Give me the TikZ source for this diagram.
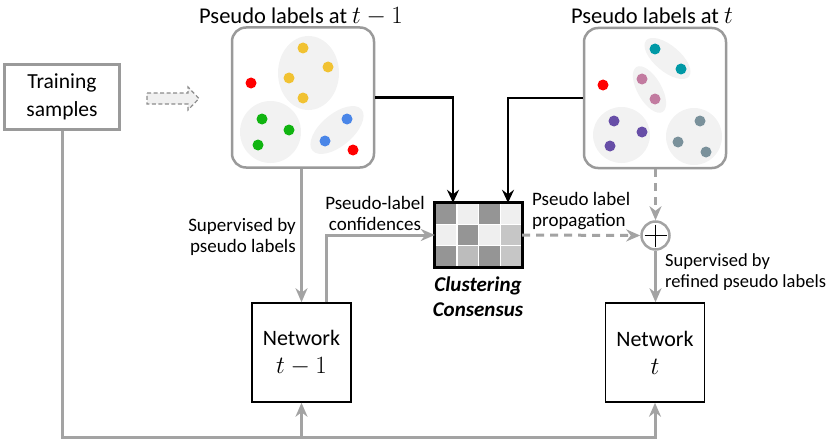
\documentclass[tikz,border=0pt]{standalone}
\usepackage{fontspec}
\setmainfont{Carlito}
\usetikzlibrary{arrows.meta,calc}
\definecolor{cgray}{HTML}{A3A3A3}
\definecolor{bgray}{HTML}{9A9A9A}
\definecolor{efill}{HTML}{F2F2F2}
\definecolor{cred}{HTML}{FF0000}
\definecolor{cyel}{HTML}{F1C232}
\definecolor{cgrn}{HTML}{10B410}
\definecolor{cblu}{HTML}{4A86E8}
\definecolor{ctea}{HTML}{0099A6}
\definecolor{cpnk}{HTML}{C27BA0}
\definecolor{cpur}{HTML}{674EA7}
\definecolor{csla}{HTML}{7A919B}
\definecolor{gdark}{HTML}{959595}
\definecolor{glight}{HTML}{EFEFEF}
\definecolor{gmid}{HTML}{C6C6C6}
\definecolor{gmid2}{HTML}{BCBCBC}
\newcommand{\bigmath}[1]{{\fontsize{26}{28}\selectfont$#1$}}
\tikzset{
  tsbox/.style={draw=bgray,line width=3pt,minimum width=115pt,minimum height=65pt,inner sep=0pt,align=center,font=\fontsize{21.5}{28}\selectfont},
  pbox/.style={draw=bgray,line width=2.5pt,rounded corners=14pt,minimum width=142pt,minimum height=140pt,inner sep=0pt},
  ptitle/.style={inner sep=0pt,anchor=base,font=\fontsize{22.5}{26}\selectfont},
  netbox/.style={draw=black,line width=1.5pt,minimum width=99pt,minimum height=99pt,inner sep=0pt,align=center,font=\fontsize{22}{28}\selectfont},
  lbl/.style={inner sep=0pt,font=\fontsize{19}{21}\selectfont},
  cclbl/.style={inner sep=0pt,align=center,font=\fontsize{21}{25}\selectfont\bfseries\itshape},
  blk/.style={draw=black,line width=2.5pt,-{Stealth[length=13pt,width=12pt,inset=4.5pt]}},
  garrow/.style={draw=cgray,line width=3pt,-{Stealth[length=14pt,width=12pt,inset=4.5pt]}},
  gdash/.style={garrow,dash pattern=on 8pt off 6pt},
  dotc/.style={fill=#1},
  ell/.style={fill=efill}
}
\begin{document}
\begin{tikzpicture}[x=1pt,y=-1pt]
\useasboundingbox (0,0) rectangle (830,444);

% training samples
\node[tsbox] (train) at (62,97) {Training\\samples};
% dashed block arrow
\draw[draw=gray!90,fill=gray!12,line width=1.2pt,dash pattern=on 4pt off 2.5pt]
  (147,93) -- (188,93) -- (188,87) -- (199,98.5) -- (188,110) -- (188,104) -- (147,104) -- cycle;

% pseudo label boxes
\node[pbox] (pl1) at (303,97.5) {};
\node[pbox] (pl2) at (655,98) {};
\node[ptitle] (t1) at (301,24) {Pseudo labels at \bigmath{t-1}};
\node[ptitle] (t2) at (652,24) {Pseudo labels at \bigmath{t}};

% left box clusters
\fill[ell] (308.5,73) ellipse (30.5 and 37);
\fill[ell] (270.5,132) ellipse (30.5 and 31);
\fill[ell,rotate around={40:(337,130)}] (337,130) ellipse (32 and 16);
\foreach \px/\py/\c in {303/48/cyel,328/67/cyel,289/78/cyel,303/98/cyel,251/83/cred,353/150/cred,262/119/cgrn,289/130/cgrn,258/145/cgrn,347/119/cblu,325/141/cblu}
  \fill[dotc=\c] (\px,\py) circle (5.5);

% right box clusters
\fill[ell,rotate around={-40:(667.5,58.5)}] (667.5,58.5) ellipse (28 and 13);
\fill[ell,rotate around={-60:(649.5,89.5)}] (649.5,89.5) ellipse (26 and 12);
\fill[ell] (621.5,135) ellipse (28.5 and 28);
\fill[ell] (694,136.5) ellipse (28 and 28.5);
\foreach \px/\py/\c in {655/49/ctea,681/69/ctea,642/79/cpnk,655/99/cpnk,603/85/cred,614/121/cpur,642/132/cpur,610/146/cpur,700/121/csla,678/142/csla,706/152/csla}
  \fill[dotc=\c] (\px,\py) circle (5.5);

% clustering consensus grid
\node[minimum width=87pt,minimum height=64pt,inner sep=0pt] (cc) at (478.5,235) {};
\foreach \row/\cols in {0/{gdark,glight,gdark,glight},1/{glight,gdark,glight,gmid},2/{gdark,gmid2,gdark,gmid}}{
  \foreach \cl [count=\ci from 0] in \cols {
    \fill[\cl,draw=white,line width=1.5pt] (435+\ci*21.75,203+\row*21.333) rectangle ++(21.75,21.333);
  }
}
\draw[black,line width=3pt] (cc.north west) rectangle (cc.south east);
\node[cclbl] (ccl) at (478,297) {Clustering\\Consensus};

% circle plus
\node[circle,draw=cgray,line width=2.5pt,minimum size=28pt,inner sep=0pt] (plus) at (655.5,235.5) {};
\draw[black,line width=1pt] ($(plus.center)+(-11,0)$) -- ($(plus.center)+(11,0)$);
\draw[black,line width=1pt] ($(plus.center)+(0,-11)$) -- ($(plus.center)+(0,11)$);

% networks
\node[netbox] (n1) at (301.5,352.5) {Network\\\bigmath{t-1}};
\node[netbox] (n2) at (655,352.5) {Network\\\bigmath{t}};

% connectors
\draw[blk] (pl1.east) -| ([xshift=-25.5pt]cc.north);
\draw[blk] (pl2.west) -| ([xshift=29.5pt]cc.north);
\draw[garrow] (pl1.south -| n1.north) -- (n1.north);
\draw[garrow] ([xshift=25pt]n1.north) |- (cc.west);
\draw[gdash] (cc.east) -- (plus.west);
\draw[gdash] (pl2.south -| plus.north) -- (plus.north);
\draw[garrow] (plus.south) -- (plus.south |- n2.north);
\draw[garrow] (train.south) |- ($(n2.south)+(0,35)$) -- (n2.south);
\draw[garrow] ($(n1.south)+(0,35)$) -- (n1.south);

% labels
\node[lbl,anchor=east,align=right] (sup1) at (296,237) {Supervised by\\pseudo labels};
\node[lbl,align=center] (conf) at (375,213) {Pseudo-label\\confidences};
\node[lbl,anchor=west,align=left] (prop) at (532,211) {Pseudo label\\propagation};
\node[lbl,anchor=west,align=left,font=\fontsize{18.5}{21}\selectfont] (sup2) at (665,272) {Supervised by\\refined pseudo labels};
\end{tikzpicture}
\end{document}
